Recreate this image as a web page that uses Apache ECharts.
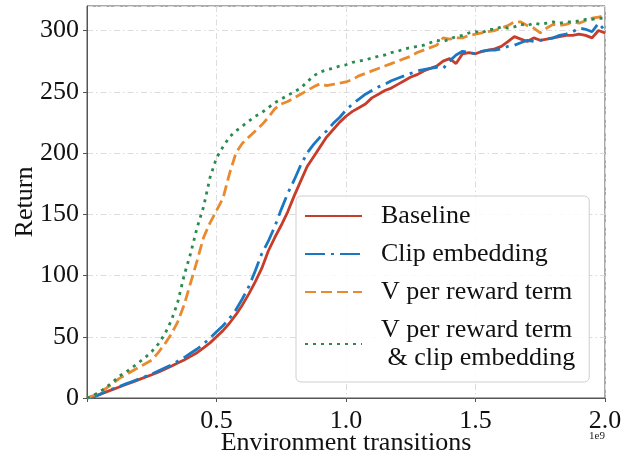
<!DOCTYPE html>
<html>
<head>
<meta charset="utf-8">
<script src="https://cdn.jsdelivr.net/npm/echarts@6/dist/echarts.min.js"></script>
<style>
html,body{margin:0;padding:0;background:#fff;}
#main{width:630px;height:457px;}
</style>
</head>
<body>
<div id="main"></div>
<script>
// x positions, in units of 1e9 environment transitions
var xs = [0,0.025,0.05,0.075,0.1,0.125,0.15,0.175,0.2,0.225,
	0.25,0.275,0.3,0.325,0.35,0.375,0.4,0.425,0.45,0.475,
	0.5,0.525,0.55,0.575,0.6,0.625,0.65,0.675,0.7,0.725,
	0.75,0.775,0.8,0.825,0.85,0.875,0.9,0.925,0.95,0.975,
	1.0,1.025,1.05,1.075,1.1,1.125,1.15,1.175,1.2,1.225,
	1.25,1.275,1.3,1.325,1.35,1.375,1.4,1.425,1.45,1.475,
	1.5,1.525,1.55,1.575,1.6,1.625,1.65,1.675,1.7,1.725,
	1.75,1.775,1.8,1.825,1.85,1.875,1.9,1.925,1.95,1.975,
	2.0];

var baseline = [0,1,3,5,7,9,11,13,15,17,
	19,21,23.5,26,28.5,31,34,37,41,45,
	50,55,61,68,76,85,95,106,120,131,
	141,152,165,177,189,197,205,213,219,225,
	230,234,237,240,245,248,251,253,256,259,
	262,264,267,269,271,275,277,273,281,282,
	281,283,284,285,287,291,295,293,291,294,
	292,293,294,295,296,296,297,296,294,300,
	298];

var clipEmb = [0,1,3,5.5,7.5,9.5,11.5,13.5,15.5,17.5,
	19.5,22,24.5,27,30,33,36.5,40,44,49,
	54,59,65,72,81,91,104,118,128,140,
	154,167,178,190,200,207,213,218,224,229,
	235,240,244,248,251,254,256,259,261,263,
	265,267,268,269,270,269,275,280,283,282,
	281,283,284,284,285,287,288,290,292,291,
	292,293,294,296,297,299,302,301,299,306,
	300];

var vPerTerm = [0,2,5,8,12,16,19,22,25,28,
	31,37,44,52,62,76,94,112,131,143,
	153,163,183,200,208,213,218,223,229,236,
	240,242,245,248,251,254,256.5,255,256,257,
	258,260,263,265,267,269,271,273,275,277,
	279,282,284,286,288,294,293,294,294,296,
	297,298,299,300,302,304,307,307,304,302,
	298,302,305,304,305,307,306,308,310,311,
	312];

var vPerTermClip = [0,2,5,9,13,18,21,25,29,33,
	38,44,52,63,78,100,118,139,156,180,
	196,205,213,218,222,226,230,233,237,241,
	244,247,250,253,258,263,266,268,269,271,
	272,274,275,276,277.5,279,280,282,283,285,
	286,287,288,290,292,291,293,295,296,298,
	299,298,301,301,303,302,303,305,304,306,
	305,306,307,306,307,307,308,309,309,310,
	310];

var seriesNames = ['Baseline','Clip embedding','V per reward term','V per reward term\n & clip embedding'];
var seriesColors = ['#c63d2b','#1a78c2','#ea8a2e','#2a8b50'];
var seriesDash = ['solid',[20,6,3,6],[11,5],[3,5]];
var seriesValues = [baseline, clipEmb, vPerTerm, vPerTermClip];

var FONT = '"Liberation Serif","DejaVu Serif",serif';

function toPairs(vals){
	return xs.map(function(x,i){ return [x, vals[i]]; });
}

var series = [];
for(var k=0;k<seriesNames.length;k++){
	series.push({
		name:seriesNames[k],
		type:'line',
		data:toPairs(seriesValues[k]),
		showSymbol:false,
		symbol:'none',
		smooth:false,
		color:seriesColors[k],
		lineStyle:{
			color:seriesColors[k],
			width:2.8,
			type:seriesDash[k],
			cap:'butt'
		}
	});
}

var gridLine = {
	show:true,
	lineStyle:{color:'#dcdcdc',width:1,type:[6,3,1.5,3]}
};

var chart = echarts.init(document.getElementById('main'));
chart.setOption({
	animation:false,
	backgroundColor:'#fff',
	grid:{
		left:87, right:25, top:6, bottom:59,
		show:true, borderColor:'#555', borderWidth:1,
		containLabel:false,
		outerBoundsMode:'none'
	},
	legend:{
		orient:'vertical',
		left:296, top:196,
		padding:[6,14,10,8],
		itemGap:10,
		itemWidth:57,
		itemHeight:14,
		backgroundColor:'rgba(255,255,255,0.85)',
		borderColor:'#cfcfcf',
		borderWidth:1,
		borderRadius:5,
		itemStyle:{opacity:0},
		textStyle:{
			fontFamily:FONT, fontSize:26, color:'#111',
			lineHeight:28, padding:[0,0,0,14]
		},
		data:seriesNames
	},
	xAxis:{
		type:'value',
		min:0, max:2, interval:0.5,
		name:'Environment transitions',
		nameLocation:'middle',
		nameGap:32,
		nameMoveOverlap:false,
		nameTextStyle:{fontFamily:FONT,fontSize:26,color:'#111'},
		axisLine:{show:true,lineStyle:{color:'#555',width:1}},
		axisTick:{show:true,length:4,lineStyle:{color:'#555'}},
		axisLabel:{
			fontFamily:FONT,fontSize:26,color:'#111',margin:10,
			formatter:function(v){ return v===0 ? '' : v.toFixed(1); }
		},
		splitLine:gridLine
	},
	yAxis:{
		type:'value',
		min:0, max:320, interval:50,
		name:'Return',
		nameLocation:'middle',
		nameGap:49,
		nameMoveOverlap:false,
		nameTextStyle:{fontFamily:FONT,fontSize:26,color:'#111'},
		axisLine:{show:true,lineStyle:{color:'#555',width:1}},
		axisTick:{show:true,length:4,lineStyle:{color:'#555'}},
		axisLabel:{
			fontFamily:FONT,fontSize:26,color:'#111',margin:8,
			showMaxLabel:false,
			formatter:function(v){ return v%50===0 ? String(v) : ''; }
		},
		splitLine:gridLine
	},
	graphic:[{
		type:'text',
		left:589, top:431,
		style:{text:'1e9',fontFamily:FONT,fontSize:11,fill:'#222'}
	}],
	series:series
});
</script>
</body>
</html>
